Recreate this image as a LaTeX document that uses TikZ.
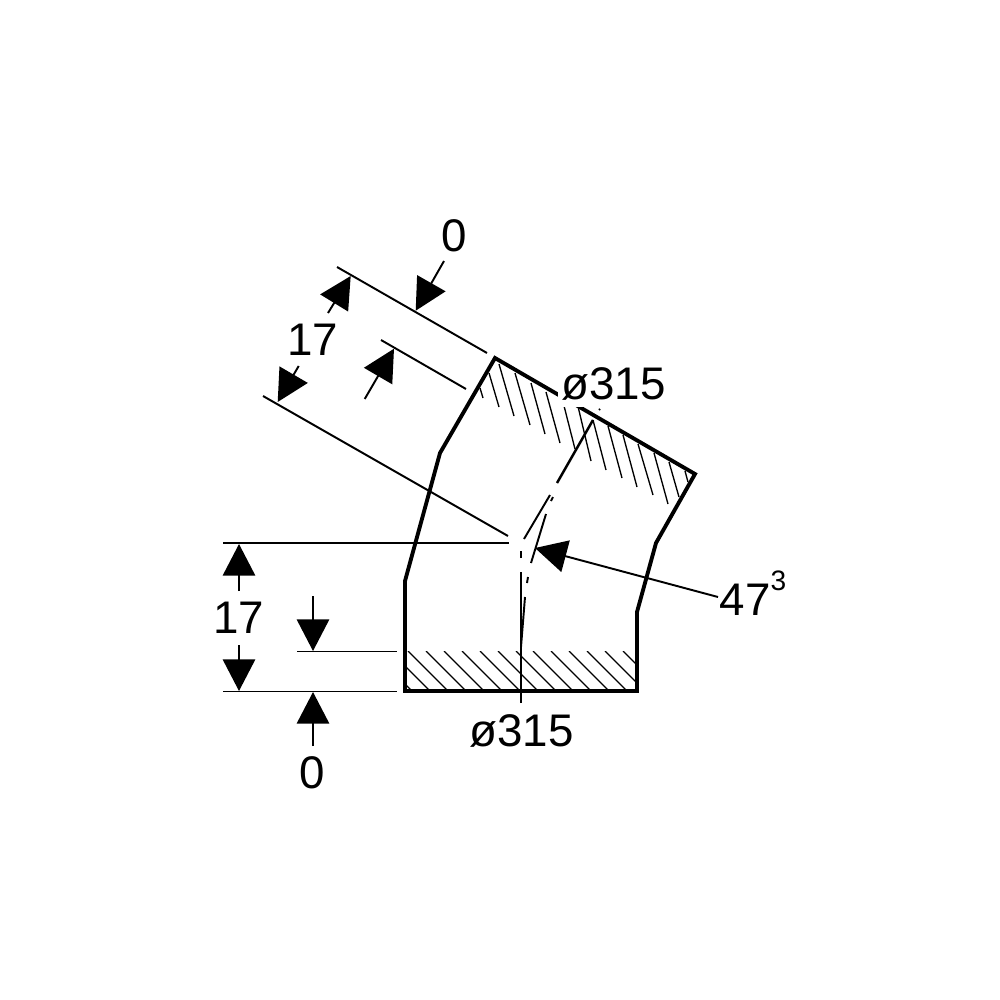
\documentclass[tikz,border=0pt]{standalone}
\usepackage{fontspec}
\setmainfont{Liberation Sans}
\usetikzlibrary{arrows.meta}

\begin{document}
\begin{tikzpicture}[x=0.01cm, y=-0.01cm,
    outline/.style={line width=1.1pt, line join=miter},
    thin line/.style={line width=0.55pt},
    hatch/.style={line width=0.38pt},
    dim arrow/.style={line width=0.55pt, -{Triangle[length=9pt, width=9.2pt]}},
    dim text/.style={font=\fontsize{13pt}{14pt}\selectfont, inner sep=0pt}]
  \useasboundingbox (0,0) rectangle (1000,1000);

  % Hatching of the lower socket
  \begin{scope}
    \clip (405,651) rectangle (637,691);
    \foreach \hx in {354,372,390,408,426,444,462,480,498,516,533,551,569,587,605,623}
      \draw[hatch] (\hx,651) -- ++(40,40);
  \end{scope}

  % Hatching of the upper socket
  \draw[hatch] (480,388) -- (483,398);
  \draw[hatch] (489,373) -- (499,407);
  \draw[hatch] (499,364) -- (514,416);
  \draw[hatch] (515,373) -- (530,425);
  \draw[hatch] (531,383) -- (545,434);
  \draw[hatch] (546,392) -- (560,443);
  \draw[hatch] (562,398) -- (575,449);
  \draw[hatch] (576,398) -- (591,461);
  \draw[hatch] (593,420) -- (606,470);
  \draw[hatch] (608,426) -- (622,478);
  \draw[hatch] (623,435) -- (637,487);
  \draw[hatch] (638,444) -- (653,495);
  \draw[hatch] (654,453) -- (668,504);
  \draw[hatch] (669,462) -- (679,497);
  \draw[hatch] (685,471) -- (688,482);

  % Body of the bend
  \draw[outline] (405,691) -- (405,581) -- (440,453) -- (495,358) -- (695,474)
    -- (656,543) -- (637,612) -- (637,691) -- cycle;

  % Centre lines
  \draw[thin line] (521,703) -- (521,572);
  \draw[thin line] (521,558) -- (521,551);
  \draw[thin line] (521,647) -- (525,597);
  \draw[thin line] (527,583) -- (528,577);
  \draw[thin line] (531,563) -- (546,514);
  \draw[thin line] (551,501) -- (553,497);
  \draw[thin line] (524,539) -- (550,495);
  \draw[line width=0.7pt] (557,483) -- (593,420);
  \draw[thin line] (599,410) -- (600,409);

  % Extension lines
  \draw[thin line] (337,267) -- (487,353);
  \draw[thin line] (381,340) -- (466,389);
  \draw[thin line] (263,396) -- (508,536);
  \draw[thin line] (223,543) -- (509,543);
  \draw[thin line] (297,651.5) -- (397,651.5);
  \draw[thin line] (223,691.5) -- (397,691.5);

  % Free ends and tips of the dimension arrows
  \coordinate (upperZeroEnd) at (444,261);
  \coordinate (upperZeroTip) at (415.7,310.7);
  \coordinate (upperLongTopEnd) at (328,313);
  \coordinate (upperLongTopTip) at (350.7,276);
  \coordinate (upperLongBotEnd) at (298.7,366);
  \coordinate (upperLongBotTip) at (277.7,402);
  \coordinate (upperShortEnd) at (364.7,399);
  \coordinate (upperShortTip) at (394,348.7);
  \coordinate (lowerLongTopEnd) at (239,591);
  \coordinate (lowerLongTopTip) at (239,544);
  \coordinate (lowerLongBotEnd) at (239,645);
  \coordinate (lowerLongBotTip) at (239,691);
  \coordinate (lowerShortEnd) at (313,596);
  \coordinate (lowerShortTip) at (313,651);
  \coordinate (lowerZeroEnd) at (313,746);
  \coordinate (lowerZeroTip) at (313,692);
  \coordinate (angleEnd) at (718,597);
  \coordinate (angleTip) at (535,548);

  \draw[dim arrow] (upperZeroEnd) -- (upperZeroTip);
  \draw[dim arrow] (upperLongTopEnd) -- (upperLongTopTip);
  \draw[dim arrow] (upperLongBotEnd) -- (upperLongBotTip);
  \draw[dim arrow] (upperShortEnd) -- (upperShortTip);
  \draw[dim arrow] (lowerLongTopEnd) -- (lowerLongTopTip);
  \draw[dim arrow] (lowerLongBotEnd) -- (lowerLongBotTip);
  \draw[dim arrow] (lowerShortEnd) -- (lowerShortTip);
  \draw[dim arrow] (lowerZeroEnd) -- (lowerZeroTip);
  \draw[dim arrow] (angleEnd) -- (angleTip);

  % Labels
  \node[dim text] (upperZero) at (454,236) {0};
  \node[dim text] (upperLong) at (313,340) {17};
  \node[dim text, fill=white, inner xsep=1pt, inner ysep=2pt] (upperDia) at (613.5,384) {ø315};
  \node[dim text] (lowerLong) at (239,618) {17};
  \node[dim text] (lowerDia) at (521.5,731) {ø315};
  \node[dim text] (lowerZero) at (312,773) {0};
  \node[dim text, anchor=base west] (angleLabel) at (719,615) {47\raisebox{1.02ex}{\fontsize{8pt}{9pt}\selectfont 3}};
\end{tikzpicture}
\end{document}
